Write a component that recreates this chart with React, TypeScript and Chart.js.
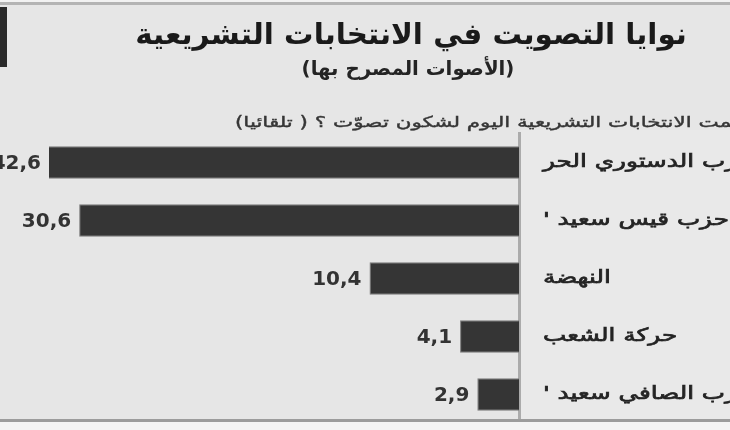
import { useEffect, useRef } from 'react'
import { Chart, registerables, Plugin } from 'chart.js'

Chart.register(...registerables)

const parties = [
  'الحزب الدستوري الحر',
  "حزب قيس سعيد '",
  'النهضة',
  'حركة الشعب',
  "حزب الصافي سعيد '",
]
const shares = [42.6, 30.6, 10.4, 4.1, 2.9]

const titleText = 'نوايا التصويت في الانتخابات التشريعية'
const subtitleText = '(الأصوات المصرح بها)'
const questionText = 'لو تمت الانتخابات التشريعية اليوم لشكون تصوّت ؟ ( تلقائيا)'

const FONT = '"DejaVu Sans"'
// the print font is wider than DejaVu's Arabic, so body text gets stretched sideways
const STRETCH = 1.37

// font size that makes a string a given width
function fitSize(ctx: CanvasRenderingContext2D, text: string, weight: string, target: number) {
  ctx.font = `${weight} 100px ${FONT}`
  return (100 * target) / ctx.measureText(text).width
}

// stretched text, with an optional thin outline to make it a bit heavier
function wideText(ctx: CanvasRenderingContext2D, text: string, x: number, y: number, sx: number, stroke = 0) {
  ctx.save()
  ctx.translate(x, y)
  ctx.scale(sx, 1)
  ctx.fillText(text, 0, 0)
  if (stroke > 0) {
    ctx.strokeStyle = ctx.fillStyle
    ctx.lineWidth = stroke
    ctx.strokeText(text, 0, 0)
  }
  ctx.restore()
}

const paperPlugin: Plugin<'bar'> = {
  id: 'paper',
  beforeDraw(chart) {
    const { ctx, width, height } = chart
    ctx.save()
    ctx.fillStyle = '#e6e6e6'
    ctx.fillRect(0, 0, width, height)
    ctx.fillStyle = '#e9e9e9'
    ctx.fillRect(520, 130, width - 520, 290)

    // top rule and dark block at the left edge
    ctx.fillStyle = '#f2f2f2'
    ctx.fillRect(0, 0, width, 2)
    ctx.fillStyle = '#b4b4b4'
    ctx.fillRect(0, 2, width, 3)
    ctx.fillStyle = '#2a2a2a'
    ctx.fillRect(0, 7, 7, 60)

    ctx.direction = 'rtl'
    ctx.textBaseline = 'alphabetic'
    ctx.fillStyle = '#1a1a1a'
    ctx.textAlign = 'center'
    const ts = fitSize(ctx, titleText, 'bold', 552)
    ctx.font = `bold ${ts}px ${FONT}`
    ctx.fillText(titleText, 411, 44)

    const ss = fitSize(ctx, subtitleText, 'bold', 213)
    ctx.font = `bold ${ss}px ${FONT}`
    ctx.fillStyle = '#242424'
    ctx.fillText(subtitleText, 408, 75)

    ctx.font = `15px ${FONT}`
    ctx.fillStyle = '#363636'
    ctx.textAlign = 'left'
    ctx.textBaseline = 'middle'
    wideText(ctx, questionText, 235, 123, 1.43, 0.4)
    ctx.restore()
  },
  afterDatasetsDraw(chart) {
    const { ctx, chartArea } = chart
    const meta = chart.getDatasetMeta(0)
    const yScale = chart.scales.y
    ctx.save()
    ctx.direction = 'rtl'
    ctx.textBaseline = 'middle'

    ctx.font = `bold 20px ${FONT}`
    ctx.fillStyle = '#333333'
    ctx.textAlign = 'right'
    meta.data.forEach((bar, i) => {
      const x = Math.max(bar.x, chartArea.left)
      ctx.fillText(shares[i].toFixed(1).replace('.', ','), x - 8, bar.y + 1)
    })

    ctx.font = `18px ${FONT}`
    ctx.fillStyle = '#242424'
    ctx.textAlign = 'left'
    ;(chart.data.labels as string[]).forEach((label, i) => {
      wideText(ctx, label, chartArea.right + 24, yScale.getPixelForValue(i), STRETCH, 0.7)
    })
    ctx.restore()
  },
  afterDraw(chart) {
    const { ctx, width, height } = chart
    ctx.save()
    ctx.fillStyle = '#9c9c9c'
    ctx.fillRect(0, 419, width, 3)
    ctx.fillStyle = '#f4f4f4'
    ctx.fillRect(0, 422, width, height - 422)
    ctx.restore()
  },
}

export default function App() {
  const canvasRef = useRef<HTMLCanvasElement>(null)

  useEffect(() => {
    document.body.style.margin = '0'
    const canvas = canvasRef.current
    if (!canvas) return

    const chart = new Chart(canvas, {
      type: 'bar',
      data: {
        labels: parties,
        datasets: [{
          data: shares,
          backgroundColor: '#353535',
          borderColor: '#7a7a7a',
          borderWidth: 1,
          barPercentage: 0.56,
          categoryPercentage: 1,
          clip: 0,
        }],
      },
      options: {
        indexAxis: 'y',
        responsive: false,
        animation: false,
        layout: { autoPadding: false, padding: { top: 133.5, bottom: 6.5, left: 49, right: 0 } },
        plugins: {
          legend: { display: false },
          title: { display: false },
          tooltip: { enabled: false },
        },
        scales: {
          x: { type: 'linear', reverse: true, min: 0, max: 32.7, display: false },
          y: {
            position: 'right',
            grid: { display: false, drawTicks: false },
            border: { display: true, color: '#ababab', width: 3 },
            ticks: { display: false },
            afterFit: (scale) => { scale.width = 211 },
          },
        },
      },
      plugins: [paperPlugin],
    })

    return () => chart.destroy()
  }, [])

  return (
    <div style={{ width: 730, height: 430 }}>
      <canvas ref={canvasRef} width={730} height={430} style={{ direction: 'rtl' }} />
    </div>
  )
}
